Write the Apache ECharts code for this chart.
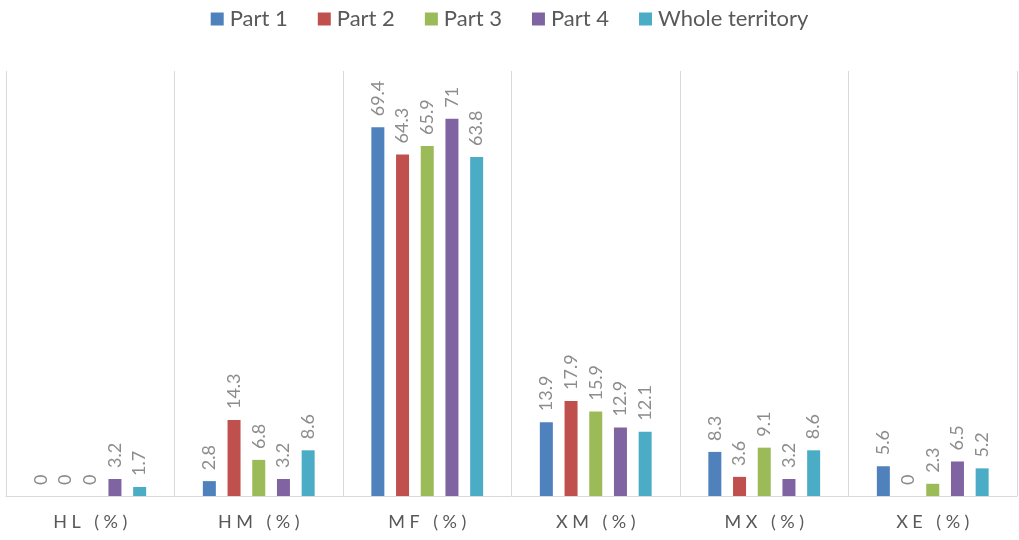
<!DOCTYPE html>
<html>
<head>
<meta charset="utf-8">
<script src="https://cdn.jsdelivr.net/npm/echarts@6/dist/echarts.min.js"></script>
<style>
  html, body { margin: 0; padding: 0; background: #fff; }
  #chart { width: 1019px; height: 540px; }
</style>
</head>
<body>
<div id="chart"></div>
<script>
// Categories and per-part percentages
const categories = ['HL (%)', 'HM (%)', 'MF (%)', 'XM (%)', 'MX (%)', 'XE (%)'];
const seriesNames = ['Part 1', 'Part 2', 'Part 3', 'Part 4', 'Whole territory'];
const part1 = [0, 2.8, 69.4, 13.9, 8.3, 5.6];
const part2 = [0, 14.3, 64.3, 17.9, 3.6, 0];
const part3 = [0, 6.8, 65.9, 15.9, 9.1, 2.3];
const part4 = [3.2, 3.2, 71, 12.9, 3.2, 6.5];
const whole = [1.7, 8.6, 63.8, 12.1, 8.6, 5.2];
const colors = ['#4f81bd', '#c0504d', '#9bbb59', '#8064a2', '#4bacc6'];

const values = [part1, part2, part3, part4, whole];
const FONT = 'Lato, "Open Sans", sans-serif';
const chart = echarts.init(document.getElementById('chart'));

chart.setOption({
  animation: false,
  color: colors,
  legend: {
    top: 3,
    left: 'center',
    itemWidth: 13,
    itemHeight: 13,
    itemGap: 30,
    icon: 'rect',
    textStyle: { fontFamily: FONT, fontSize: 22, color: '#595959', padding: [0, 0, 0, 1] },
    data: seriesNames
  },
  grid: { left: 6, right: 2, top: 71, bottom: 44 },
  xAxis: {
    type: 'category',
    data: categories,
    axisTick: { show: false },
    axisLine: { lineStyle: { color: '#d9d9d9', width: 1 } },
    splitLine: { show: true, lineStyle: { color: '#d9d9d9', width: 1 } },
    axisLabel: {
      margin: 17,
      fontFamily: FONT,
      fontSize: 18,
      color: '#595959',
      formatter: v => v.split('').join('\u2005')
    }
  },
  yAxis: {
    type: 'value',
    min: 0,
    max: 80,
    show: false,
    splitLine: { show: false }
  },
  series: values.map((d, i) => ({
    name: seriesNames[i],
    type: 'bar',
    data: d,
    barWidth: 13,
    barGap: '90%',
    label: {
      show: true,
      position: 'top',
      rotate: 90,
      align: 'left',
      verticalAlign: 'middle',
      distance: 11,
      fontFamily: FONT,
      fontSize: 18,
      color: '#8c8c8c'
    }
  }))
});
</script>
</body>
</html>
